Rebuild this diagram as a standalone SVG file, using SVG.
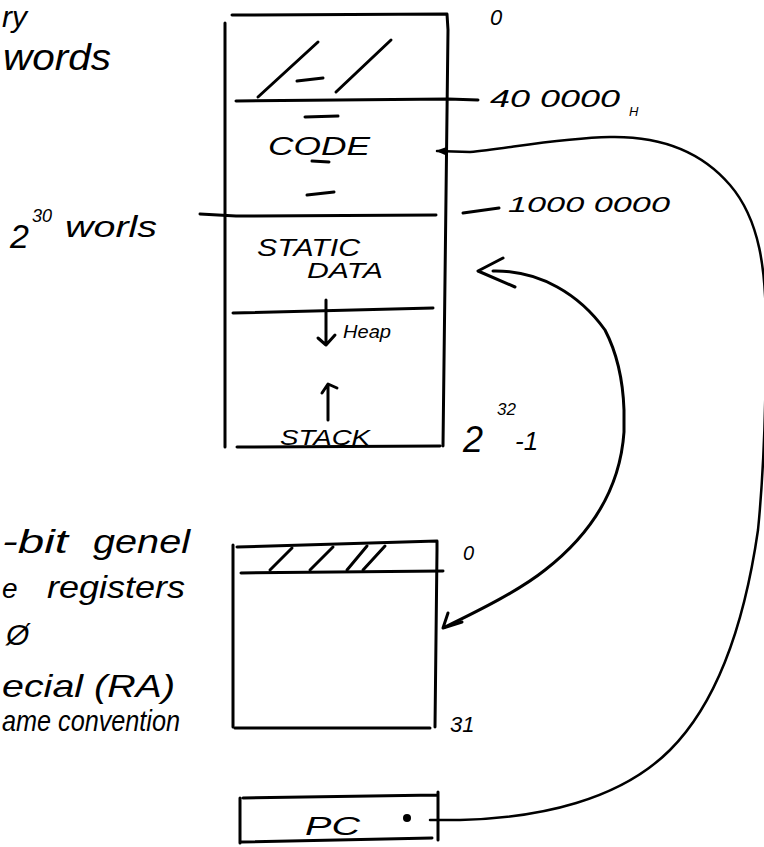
<svg xmlns="http://www.w3.org/2000/svg" width="764" height="847" viewBox="0 0 764 847">
<style>
.s{fill:none;stroke:#000;stroke-width:3;stroke-linecap:round;stroke-linejoin:round}
.c{fill:none;stroke:#000;stroke-width:2.5;stroke-linecap:round;stroke-linejoin:round}
.t{font-family:"Liberation Sans",Arial,sans-serif;font-style:italic;fill:#000}
</style>
<defs>
<marker id="fill" viewBox="0 0 10 10" refX="9" refY="5" markerWidth="5" markerHeight="5" orient="auto-start-reverse" markerUnits="strokeWidth">
<path d="M0 1 L10 5 L0 9 Z" fill="#000"/>
</marker>
</defs>
<rect width="764" height="847" fill="#fff"/>

<g id="left-notes">
<text class="t" x="2" y="27" font-size="30">ry</text>
<text class="t" x="3" y="70" font-size="36" textLength="108" lengthAdjust="spacingAndGlyphs">words</text>
<text class="t" x="10" y="248" font-size="34">2</text>
<text class="t" x="32" y="222" font-size="18">30</text>
<text class="t" x="65" y="237" font-size="30" textLength="92" lengthAdjust="spacingAndGlyphs">worls</text>
<text class="t" x="2" y="553" font-size="34" textLength="66" lengthAdjust="spacingAndGlyphs">-bit</text>
<text class="t" x="93" y="553" font-size="34" textLength="97" lengthAdjust="spacingAndGlyphs">genel</text>
<text class="t" x="2" y="598" font-size="28">e</text>
<text class="t" x="47" y="598" font-size="32" textLength="138" lengthAdjust="spacingAndGlyphs">registers</text>
<text class="t" x="6" y="645" font-size="30">Ø</text>
<text class="t" x="2" y="697" font-size="32" textLength="173" lengthAdjust="spacingAndGlyphs">ecial (RA)</text>
<text class="t" x="2" y="731" font-size="30" textLength="178" lengthAdjust="spacingAndGlyphs">ame convention</text>
</g>

<g id="memory">
<path class="s" d="M232 15 L447 14 L448 30 L443 446 M225 23 L225 447 M237 447 L440 446"/>
<path class="s" d="M236 101 L448 99 L478 100"/>
<path class="s" d="M258 97 L318 42 M336 92 L391 40 M297 81 L323 78"/>
<path class="s" d="M305 117 L338 116 M312 161 L329 162 M307 195 L334 192"/>
<text class="t" x="268" y="155" font-size="26" textLength="102" lengthAdjust="spacingAndGlyphs">CODE</text>
<path class="s" d="M200 214 L236 216 L436 215"/>
<text class="t" x="257" y="256" font-size="24" textLength="103" lengthAdjust="spacingAndGlyphs">STATIC</text>
<text class="t" x="307" y="278" font-size="22" textLength="76" lengthAdjust="spacingAndGlyphs">DATA</text>
<path class="s" d="M233 313 L433 308"/>
<path class="s" d="M326 300 L326 345 M318 338 L326 345 L335 335"/>
<text class="t" x="343" y="338" font-size="18" textLength="48" lengthAdjust="spacingAndGlyphs">Heap</text>
<path class="s" d="M328 420 L328 386 M322 393 L328 384 L337 388"/>
<text class="t" x="280" y="445" font-size="22" textLength="90" lengthAdjust="spacingAndGlyphs">STACK</text>
</g>

<g id="memory-addresses">
<text class="t" x="490" y="25" font-size="22">0</text>
<text class="t" x="490" y="107" font-size="24" textLength="130" lengthAdjust="spacingAndGlyphs">40 0000</text>
<text class="t" x="629" y="116" font-size="13">H</text>
<path class="s" d="M463 213 L499 208"/>
<text class="t" x="508" y="212" font-size="22" textLength="162" lengthAdjust="spacingAndGlyphs">1000 0000</text>
<text class="t" x="463" y="452" font-size="36">2</text>
<text class="t" x="497" y="415" font-size="17">32</text>
<text class="t" x="515" y="450" font-size="26">-1</text>
</g>

<g id="registers">
<path class="s" d="M237 547 L437 541 L437 550 L435 727 M233 545 L233 727 M235 728 L430 728"/>
<path class="s" d="M241 573 L443 571"/>
<path class="s" d="M270 570 L292 548 M310 570 L333 547 M347 570 L367 546 M363 570 L385 546"/>
<text class="t" x="463" y="560" font-size="20">0</text>
<text class="t" x="450" y="732" font-size="22">31</text>
</g>

<g id="pc">
<path class="s" d="M243 798 L437 795 M240 798 L240 843 M241 842 L432 838 M438 792 L438 840"/>
<text class="t" x="305" y="835" font-size="26" textLength="55" lengthAdjust="spacingAndGlyphs">PC</text>
<circle cx="407" cy="818" r="4" fill="#000"/>
</g>

<g id="connectors">
<path class="c" d="M430 820 L460 820 C 540 818 620 800 670 750 C 720 700 745 620 758 530 C 764 470 766 400 766 330 C 766 270 760 220 730 185 C 700 150 660 136 610 137 C 560 138 510 148 470 152 L437 151" marker-end="url(#fill)"/>
<path class="s" d="M493 271 C 540 270 580 295 605 330 C 618 355 623 380 624 410 L624 432 C 620 490 590 535 545 570 C 520 590 480 610 445 627"/>
<path class="s" d="M503 258 L478 271 L515 287"/>
<path class="s" d="M448 613 L443 628 L462 622"/>
</g>
</svg>
